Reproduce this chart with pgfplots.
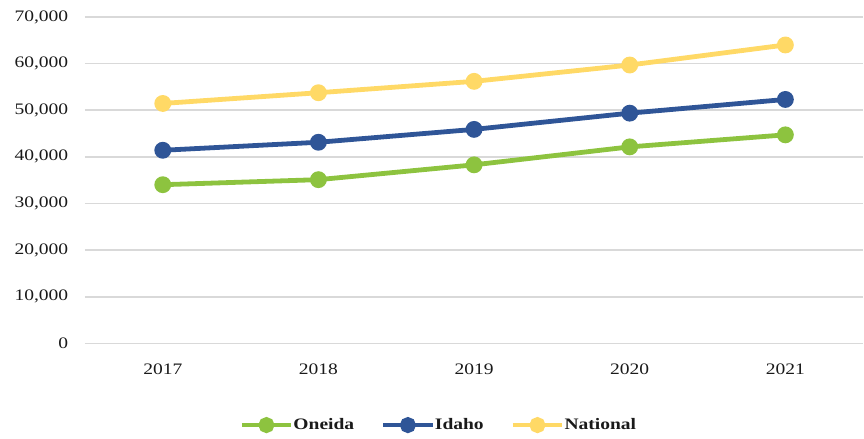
\documentclass[border=0pt]{standalone}
\usepackage{fontspec}
\setmainfont{Liberation Serif}[FakeStretch=1.22]
\usepackage{pgfplots}
\pgfplotsset{compat=1.18}
\definecolor{cgreen}{HTML}{8DC33F}
\definecolor{cblue}{HTML}{2F5597}
\definecolor{cyellow}{HTML}{FFD966}
\definecolor{cgrid}{HTML}{D9D9D9}
\definecolor{ctext}{HTML}{1A1A1A}
\begin{document}
\begin{tikzpicture}[x=1pt,y=1pt]
\begin{axis}[
  scale only axis,
  width=584pt, height=245pt,
  xmin=-0.5, xmax=4.5,
  ymin=0, ymax=70000,
  xtick={0,1,2,3,4},
  xticklabels={2017,2018,2019,2020,2021},
  ytick={0,10000,20000,30000,40000,50000,60000,70000},
  scaled y ticks=false,
  /pgf/number format/.cd, 1000 sep={,}, assume math mode=true, /pgfplots/.cd,
  axis line style={draw=none},
  major tick length=0pt,
  ymajorgrids,
  grid style={cgrid, line width=1.2pt},
  tick label style={font=\fontsize{12}{14}\selectfont, text=ctext},
  yticklabel style={xshift=-9pt},
  xticklabel style={yshift=-12pt},
  legend style={at={(0.455,-0.25)}, anchor=center, draw=none, legend columns=3,
    font=\fontsize{12}{14}\selectfont\bfseries, text=ctext,
    /tikz/every odd column/.append style={column sep=-2pt},
    /tikz/every even column/.append style={column sep=18pt}},
  legend cell align=left,
  legend image code/.code={
    \draw[#1, mark=none] (0pt,0pt) -- (37pt,0pt);
    \fill[#1] (18.5pt,0pt) circle (4.2pt);
  },
]
\addplot[cgreen, line width=3.6pt, mark=*, mark size=4.5pt] coordinates {
  (0,34040) (1,35120) (2,38300) (3,42150) (4,44730)};
\addlegendentry{Oneida}
\addplot[cblue, line width=3.6pt, mark=*, mark size=4.5pt] coordinates {
  (0,41420) (1,43140) (2,45900) (3,49380) (4,52320)};
\addlegendentry{Idaho}
\addplot[cyellow, line width=3.6pt, mark=*, mark size=4.5pt] coordinates {
  (0,51460) (1,53760) (2,56200) (3,59700) (4,64000)};
\addlegendentry{National}
\end{axis}
\path (current axis.south west) ++(-63.75pt,-71.6pt) coordinate (bl);
\path (current axis.north east) ++(0pt,12.75pt) coordinate (tr);
\path (bl) rectangle (tr);
\end{tikzpicture}
\end{document}
